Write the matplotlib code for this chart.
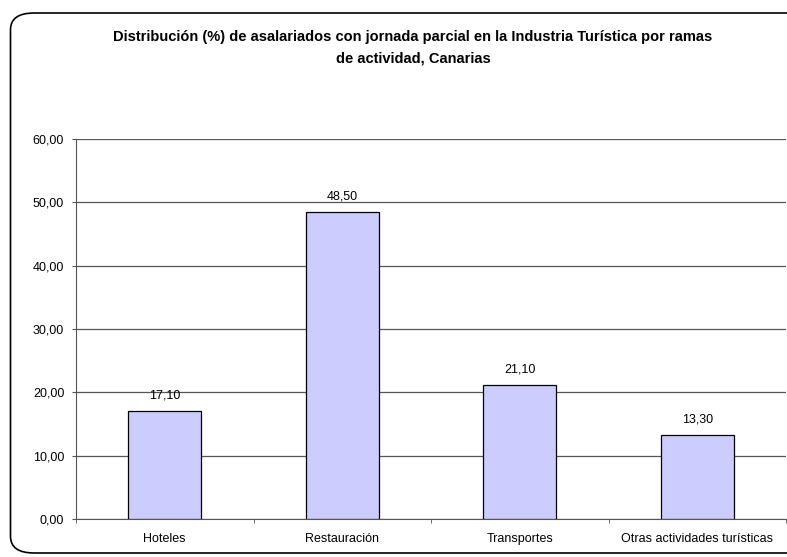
import matplotlib
matplotlib.use("Agg")
import matplotlib.pyplot as plt
from matplotlib.patches import FancyBboxPatch

categories = ["Hoteles", "Restauración", "Transportes", "Otras actividades turísticas"]
values = [17.10, 48.50, 21.10, 13.30]
yticks = [0, 10, 20, 30, 40, 50, 60]
title = "Distribución (%) de asalariados con jornada parcial en la Industria Turística por ramas\nde actividad, Canarias"

plt.rcParams['font.family'] = ['Liberation Sans', 'DejaVu Sans']

W, H = 787, 557
fig = plt.figure(figsize=(W / 100, H / 100), dpi=100)

# rounded border
border = FancyBboxPatch((10.5 / W, 4 / H), (W + 20) / W, (H - 17) / H,
                        boxstyle="round,pad=0,rounding_size=0.03",
                        transform=fig.transFigure, fill=False,
                        edgecolor="black", linewidth=1.2, clip_on=False)
fig.patches.append(border)

left, right = 76 / W, 786 / W
bottom, top = 1 - 519 / H, 1 - 139 / H
ax = fig.add_axes([left, bottom, right - left, top - bottom])

x = list(range(len(categories)))
bars = ax.bar(x, values, width=0.41, color="#CCCCFF", edgecolor="#000000",
              linewidth=0.9, zorder=3)
for xi, v in zip(x, values):
    ax.text(xi, v + 1.5, f"{v:.2f}".replace(".", ","), ha="center", va="bottom",
            fontsize=9, zorder=4)

ax.set_xlim(-0.5, len(categories) - 0.5)
ax.set_ylim(0, 60)
ax.set_yticks(yticks)
ax.set_yticklabels([f"{t:.2f}".replace(".", ",") for t in yticks], fontsize=9)
ax.set_xticks(x)
ax.set_xticklabels(categories, fontsize=9)
ax.tick_params(axis="x", length=0, pad=10)
ax.set_xticks([i + 0.5 for i in range(-1, len(categories))], minor=True)
ax.tick_params(axis="x", which="minor", length=3, color="#555555", direction="out")
ax.tick_params(axis="y", length=3, color="#555555", direction="out", pad=5.5)

ax.grid(axis="y", color="#555555", linewidth=0.9, zorder=0)
for s in ["top", "right"]:
    ax.spines[s].set_visible(False)
ax.spines["left"].set_color("#555555")
ax.spines["bottom"].set_color("#555555")
ax.set_facecolor("white")

fig.text(413 / W, 1 - 47.5 / H, title, ha="center", va="center",
         fontsize=10.5, fontweight="bold", linespacing=1.7)

fig.savefig("out.png", dpi=100)
